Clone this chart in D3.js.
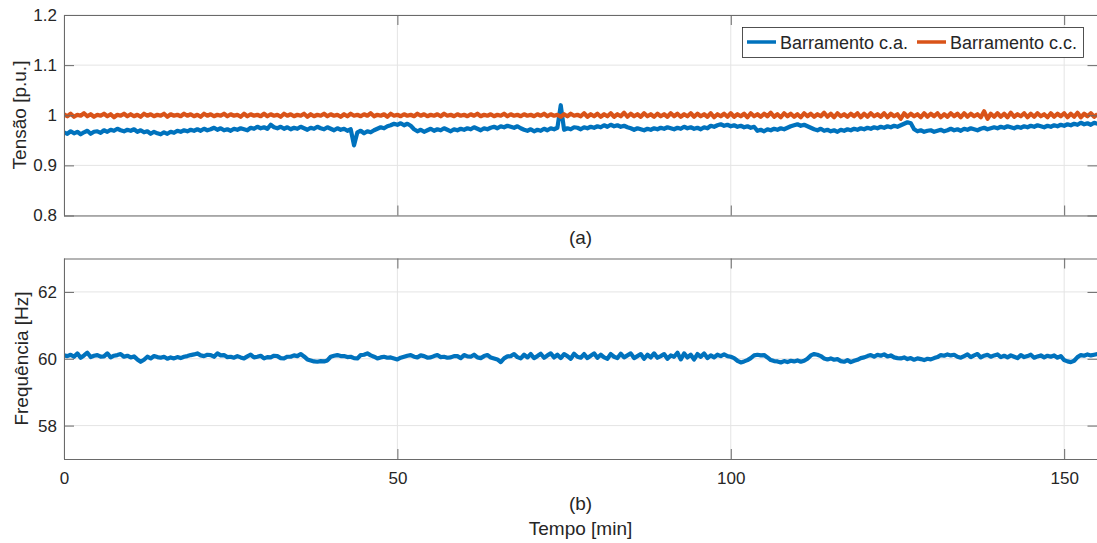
<!DOCTYPE html>
<html><head><meta charset="utf-8">
<script src="https://cdn.jsdelivr.net/npm/d3@7"></script>
<style>
body{margin:0;background:#fff}
svg text{font-family:"Liberation Sans",Arial,Helvetica,sans-serif;fill:#262626}
</style>
</head><body>
<svg id="c" width="1097" height="543"></svg>
<script>
// sampling interval of the recorded series [min]
const timeStep = 0.5;

// Barramento c.a. voltage [p.u.]
const vAC = [
0.966,0.963,0.968,0.964,0.967,0.962,0.966,0.969,0.963,0.967,0.968,0.965,0.970,0.967,0.971,0.969,0.973,0.970,0.968,0.971,
0.969,0.972,0.967,0.970,0.966,0.968,0.963,0.967,0.964,0.962,0.966,0.963,0.967,0.965,0.969,0.967,0.970,0.968,0.971,0.969,
0.972,0.969,0.973,0.970,0.972,0.975,0.971,0.974,0.970,0.972,0.969,0.973,0.971,0.974,0.972,0.970,0.975,0.973,0.977,0.974,
0.976,0.973,0.981,0.976,0.974,0.977,0.973,0.976,0.972,0.975,0.973,0.977,0.974,0.971,0.975,0.973,0.977,0.974,0.972,0.976,
0.973,0.970,0.974,0.971,0.973,0.969,0.972,0.940,0.966,0.969,0.964,0.968,0.966,0.970,0.973,0.976,0.974,0.978,0.980,0.983,
0.981,0.984,0.980,0.983,0.979,0.972,0.968,0.971,0.967,0.970,0.973,0.969,0.972,0.970,0.974,0.971,0.968,0.972,0.970,0.973,
0.971,0.974,0.972,0.976,0.973,0.970,0.974,0.972,0.975,0.977,0.974,0.978,0.976,0.979,0.977,0.975,0.978,0.974,0.971,0.969,
0.972,0.968,0.971,0.969,0.973,0.970,0.974,0.972,0.975,1.020,0.971,0.974,0.972,0.976,0.975,0.972,0.976,0.974,0.977,0.975,
0.978,0.976,0.980,0.977,0.981,0.978,0.980,0.977,0.979,0.976,0.974,0.971,0.974,0.972,0.970,0.973,0.971,0.974,0.972,0.975,
0.973,0.976,0.974,0.972,0.975,0.973,0.977,0.974,0.976,0.973,0.975,0.972,0.976,0.974,0.979,0.977,0.980,0.982,0.979,0.981,
0.978,0.980,0.977,0.979,0.976,0.978,0.975,0.977,0.969,0.971,0.968,0.972,0.970,0.973,0.971,0.974,0.972,0.975,0.978,0.980,
0.982,0.979,0.981,0.978,0.975,0.972,0.970,0.973,0.969,0.971,0.968,0.970,0.967,0.971,0.969,0.972,0.970,0.973,0.971,0.974,
0.972,0.975,0.973,0.976,0.974,0.977,0.975,0.978,0.976,0.979,0.977,0.980,0.983,0.986,0.984,0.972,0.968,0.970,0.967,0.969,
0.970,0.967,0.969,0.971,0.968,0.970,0.973,0.970,0.972,0.969,0.973,0.971,0.974,0.972,0.970,0.973,0.975,0.972,0.974,0.976,
0.974,0.977,0.975,0.978,0.976,0.974,0.977,0.975,0.978,0.976,0.979,0.977,0.980,0.978,0.976,0.979,0.977,0.980,0.978,0.981,
0.979,0.982,0.980,0.983,0.981,0.985,0.982,0.984,0.981,0.985,0.983
];

// Barramento c.c. voltage [p.u.]
const vDC = [
1.002,0.998,1.003,0.997,1.001,0.999,1.004,0.998,1.002,0.997,1.001,0.999,1.003,0.998,1.002,0.996,1.001,0.999,1.003,0.998,
1.002,0.998,1.001,0.997,1.003,0.999,1.002,0.998,1.001,0.999,1.003,0.997,1.002,0.999,1.001,0.998,1.003,0.999,1.002,0.998,
1.001,0.997,1.003,0.999,1.002,0.998,1.001,0.999,1.003,0.998,1.002,0.999,1.001,0.997,1.003,0.998,1.002,0.999,1.001,0.998,
1.003,0.998,1.002,0.999,1.001,0.997,1.003,0.999,1.002,0.998,1.001,0.999,1.003,0.997,1.002,0.998,1.001,0.999,1.003,0.998,
1.002,0.999,1.001,0.997,1.002,0.998,1.003,0.999,1.001,0.998,1.002,0.999,1.004,0.998,1.001,0.999,1.002,0.997,1.003,0.999,
1.001,0.998,1.002,0.999,1.001,0.998,1.003,0.999,1.002,0.998,1.001,0.999,1.002,0.998,1.003,0.999,1.001,0.998,1.002,0.999,
1.001,0.998,1.002,0.999,1.003,0.998,1.001,0.999,1.002,0.998,1.001,0.999,1.003,0.998,1.002,0.999,1.001,0.998,1.002,0.999,
1.001,0.998,1.002,0.999,1.003,0.998,1.002,0.999,1.001,0.997,1.002,0.998,1.003,0.999,1.001,0.998,1.004,0.997,1.002,0.998,
1.003,0.997,1.002,0.998,1.004,0.997,1.002,0.998,1.005,0.997,1.003,0.998,1.002,0.997,1.004,0.998,1.002,0.997,1.003,0.998,
1.002,0.997,1.004,0.998,1.003,0.997,1.002,0.998,1.004,0.997,1.003,0.998,1.002,0.997,1.004,0.996,1.002,0.998,1.003,0.997,
1.004,0.997,1.002,0.998,1.003,0.996,1.004,0.998,1.002,0.997,1.003,0.998,1.005,0.997,1.002,0.996,1.004,0.998,1.003,0.997,
1.002,0.996,1.004,0.998,1.003,0.997,1.002,0.998,1.005,0.997,1.003,0.996,1.004,0.998,1.002,0.997,1.003,0.998,1.004,0.996,
1.003,0.997,1.004,0.998,1.002,0.997,1.004,0.996,1.003,0.998,1.002,0.993,1.004,0.997,1.003,0.998,1.002,0.996,1.004,0.997,
1.003,0.998,1.004,0.996,1.002,0.997,1.004,0.998,1.003,0.996,1.004,0.997,1.003,0.998,1.002,0.996,1.008,0.993,1.003,0.997,
1.004,0.997,1.003,0.996,1.005,0.997,1.002,0.998,1.004,0.996,1.003,0.997,1.004,0.998,1.002,0.996,1.004,0.997,1.003,0.998,
1.004,0.996,1.003,0.997,1.005,0.996,1.003,0.998,1.004,0.997,1.002
];

// Frequency [Hz]
const freq = [
60.10,60.08,60.12,60.06,60.16,60.03,60.10,60.18,60.05,60.09,60.11,60.06,60.07,60.16,60.04,60.09,60.11,60.14,60.06,60.09,
60.04,60.07,59.98,59.91,59.97,60.06,60.01,60.08,60.05,60.03,60.06,60.00,60.04,60.01,60.05,60.02,60.06,60.08,60.11,60.13,
60.16,60.10,60.08,60.12,60.11,60.06,60.16,60.10,60.11,60.05,60.06,60.03,60.08,60.04,60.01,60.07,60.12,60.04,60.06,60.09,
60.01,60.05,60.04,60.09,60.08,60.02,60.01,60.06,60.06,60.10,60.08,60.14,60.07,59.98,59.95,59.92,59.91,59.93,59.92,59.95,
60.06,60.09,60.11,60.08,60.08,60.05,60.06,60.02,60.01,60.11,60.12,60.16,60.10,60.06,60.01,60.04,60.06,60.03,60.04,60.01,
59.98,60.03,60.06,60.09,60.11,60.06,60.04,60.10,60.08,60.03,60.04,60.08,60.11,60.05,60.06,60.03,60.04,60.08,60.08,60.02,
60.11,60.07,60.06,60.12,60.04,60.02,60.08,60.11,60.04,60.01,59.98,59.90,60.01,60.07,60.08,60.14,60.05,60.01,60.12,60.04,
60.14,60.02,60.08,60.15,60.03,60.10,60.16,60.04,60.12,60.02,60.14,60.08,60.00,60.15,60.06,60.03,60.14,60.02,60.09,60.16,
60.03,60.12,60.04,60.00,60.14,60.06,60.02,60.15,60.04,60.10,60.16,60.02,60.08,60.14,60.00,60.12,60.04,60.16,60.03,60.08,
60.14,60.00,60.10,60.06,60.18,59.98,60.16,60.04,60.12,59.98,60.14,60.06,60.16,60.02,60.10,60.04,60.12,60.08,60.13,60.08,
60.06,60.02,59.94,59.89,59.92,59.96,60.02,60.10,60.12,60.10,60.11,60.04,59.96,59.93,59.92,59.89,59.93,59.90,59.94,59.92,
59.95,59.91,59.94,60.00,60.10,60.14,60.12,60.08,60.01,59.98,60.01,59.97,59.99,59.93,59.91,59.96,59.90,59.94,59.97,60.02,
60.04,60.08,60.11,60.06,60.12,60.09,60.13,60.07,60.10,60.04,60.02,60.01,60.04,59.99,60.02,59.97,60.01,59.99,59.96,60.00,
59.98,60.02,60.05,60.11,60.09,60.13,60.10,60.12,60.06,60.03,60.08,60.13,60.05,60.10,60.14,60.04,60.09,60.12,60.06,60.10,
60.13,60.05,60.09,60.04,60.10,60.06,60.02,60.11,60.05,60.08,60.12,60.03,60.07,60.10,60.04,60.09,60.06,60.10,60.03,60.08,
59.96,59.92,59.90,59.94,60.05,60.11,60.09,60.13,60.10,60.12,60.14
];

const xDomain = [0, 155];
const xTicks = [0, 50, 100, 150];
const vDomain = [0.8, 1.2];
const vTicks = [0.8, 0.9, 1.0, 1.1, 1.2];
const fDomain = [57, 63];
const fTicks = [58, 60, 62];
const seriesNames = ["Barramento c.a.", "Barramento c.c."];
const seriesColors = ["#0072BD", "#D95319"];

const svg = d3.select("#c");
const L = 64, R = 1097.5;
const x = d3.scaleLinear().domain(xDomain).range([L, R]);
const tickFont = 17, labelFont = 19;
const axisCol = "#6a6a6a";
const dataWidth = 4.2;

function panel(id, top, bottom, yDomain, yTicks, yFmt, showX) {
  const y = d3.scaleLinear().domain(yDomain).range([bottom, top]);
  const g = svg.append("g");
  g.append("g").selectAll("line").data(xTicks).join("line")
    .attr("x1", d => x(d)).attr("x2", d => x(d)).attr("y1", top).attr("y2", bottom)
    .attr("stroke", "#e4e4e4").attr("stroke-width", 1);
  g.append("g").selectAll("line").data(yTicks).join("line")
    .attr("x1", L).attr("x2", R).attr("y1", d => y(d)).attr("y2", d => y(d))
    .attr("stroke", "#e4e4e4").attr("stroke-width", 1);
  svg.append("clipPath").attr("id", id).append("rect")
    .attr("x", L).attr("y", top).attr("width", R - L).attr("height", bottom - top);
  const data = g.append("g").attr("clip-path", `url(#${id})`);
  const styleAxis = a => {
    a.select(".domain").remove();
    a.selectAll(".tick line").attr("stroke", axisCol);
    a.selectAll("text").attr("font-size", tickFont)
      .attr("font-family", '"Liberation Sans",Arial,sans-serif').attr("fill", "#262626");
  };
  g.append("g").attr("transform", `translate(${L},0)`)
    .call(d3.axisLeft(y).tickValues(yTicks).tickFormat(yFmt).tickSizeInner(-10).tickSizeOuter(0).tickPadding(7))
    .call(styleAxis);
  g.append("g").attr("transform", `translate(${R},0)`)
    .call(d3.axisRight(y).tickValues(yTicks).tickFormat("").tickSizeInner(-10).tickSizeOuter(0))
    .call(styleAxis);
  g.append("g").attr("transform", `translate(0,${bottom})`)
    .call(d3.axisBottom(x).tickValues(xTicks).tickFormat(showX ? d3.format("d") : "").tickSizeInner(-10).tickSizeOuter(0).tickPadding(13))
    .call(styleAxis);
  g.append("g").attr("transform", `translate(0,${top})`)
    .call(d3.axisTop(x).tickValues(xTicks).tickFormat("").tickSizeInner(-10).tickSizeOuter(0))
    .call(styleAxis);
  g.append("rect").attr("x", L + 0.5).attr("y", top + 0.5).attr("width", R - L).attr("height", bottom - top)
    .attr("fill", "none").attr("stroke", axisCol).attr("stroke-width", 1);
  return { y, data };
}

const line = y => d3.line().x((d, i) => x(i * timeStep)).y(d => y(d));

// Panel (a)
const pa = panel("clipA", 15, 215.5, vDomain, vTicks, d => d3.format("")(+d.toFixed(1)), false);
pa.data.append("path").datum(vAC).attr("d", line(pa.y))
  .attr("fill", "none").attr("stroke", seriesColors[0]).attr("stroke-width", dataWidth).attr("stroke-linejoin", "round");
pa.data.append("path").datum(vDC).attr("d", line(pa.y))
  .attr("fill", "none").attr("stroke", seriesColors[1]).attr("stroke-width", dataWidth).attr("stroke-linejoin", "round");

svg.append("text").attr("x", 580.5).attr("y", 244).attr("text-anchor", "middle")
  .attr("font-size", labelFont).text("(a)");
svg.append("text").attr("transform", "translate(26,115) rotate(-90)").attr("text-anchor", "middle")
  .attr("font-size", labelFont).text("Tensão [p.u.]");

// legend
const lg = svg.append("g");
lg.append("rect").attr("x", 742.5).attr("y", 27.5).attr("width", 341).attr("height", 30)
  .attr("fill", "#fff").attr("stroke", "#262626").attr("stroke-width", 0.8);
const legX = [747, 917];
seriesNames.forEach((n, i) => {
  lg.append("line").attr("x1", legX[i]).attr("x2", legX[i] + 29).attr("y1", 42).attr("y2", 42)
    .attr("stroke", seriesColors[i]).attr("stroke-width", 3.5);
  lg.append("text").attr("x", legX[i] + 33).attr("y", 48.5).attr("font-size", 18).text(n);
});

// Panel (b)
const pb = panel("clipB", 258.5, 459, fDomain, fTicks, d3.format("d"), true);
pb.data.append("path").datum(freq).attr("d", line(pb.y))
  .attr("fill", "none").attr("stroke", seriesColors[0]).attr("stroke-width", dataWidth).attr("stroke-linejoin", "round");

svg.append("text").attr("x", 580.5).attr("y", 510).attr("text-anchor", "middle")
  .attr("font-size", labelFont).text("(b)");
svg.append("text").attr("x", 580.5).attr("y", 535).attr("text-anchor", "middle")
  .attr("font-size", labelFont).text("Tempo [min]");
svg.append("text").attr("transform", "translate(28,358.5) rotate(-90)").attr("text-anchor", "middle")
  .attr("font-size", labelFont).text("Frequência [Hz]");
</script>
</body></html>
